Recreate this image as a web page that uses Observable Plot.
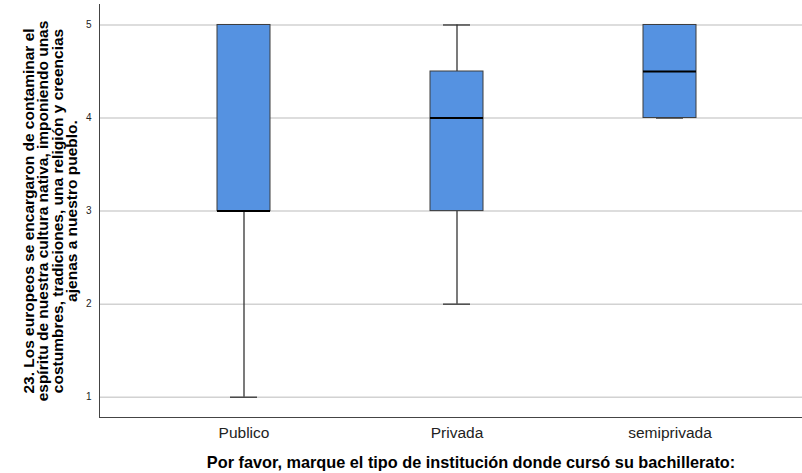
<!DOCTYPE html>
<html>
<head>
<meta charset="utf-8">
<script src="https://cdn.jsdelivr.net/npm/d3@7"></script>
<script src="https://cdn.jsdelivr.net/npm/@observablehq/plot@0.6"></script>
<style>
  html, body { margin: 0; padding: 0; background: #fff; }
  #chart svg { display: block; }
</style>
</head>
<body>
<div id="chart"></div>
<script>
const categories = ["Publico", "Privada", "semiprivada"];
const mins    = [1, 2, 4];
const q1s     = [3, 3, 4];
const medians = [3, 4, 4.5];
const q3s     = [5, 4.5, 5];
const maxs    = [5, 5, 5];
const yTicks  = [1, 2, 3, 4, 5];
const yDomain = [0.782, 5.22];
const xTitle = "Por favor, marque el tipo de institución donde cursó su bachillerato:";
const yTitle = "23. Los europeos se encargaron de contaminar el\nespíritu de nuestra cultura nativa, imponiendo unas\ncostumbres, tradiciones, una religión y creencias\najenas a nuestro pueblo.";

const data = categories.map((c, i) => ({
  cat: c, min: mins[i], q1: q1s[i], median: medians[i], q3: q3s[i], max: maxs[i]
}));

const font = "'Liberation Sans', Arial, sans-serif";

const chart = Plot.plot({
  width: 802,
  height: 473,
  marginLeft: 99,
  marginRight: 0,
  marginTop: 4,
  marginBottom: 56,
  style: { fontFamily: font, background: "#fff" },
  x: { type: "band", domain: categories, paddingInner: 0.752, paddingOuter: 0, insetLeft: 116.5, insetRight: 105.5, label: null },
  y: { domain: yDomain, label: null },
  marks: [
    Plot.gridY(yTicks, { stroke: "#d2d2d2", strokeOpacity: 1, strokeWidth: 1.5 }),
    Plot.frame({ anchor: "left", stroke: "#444" }),
    Plot.frame({ anchor: "bottom", stroke: "#444" }),
    Plot.axisY(yTicks, { tickSize: 0, tickPadding: 8, fontSize: 10, fill: "#222", label: null, tickFormat: d => String(d) }),
    Plot.axisX({ tickSize: 0, tickPadding: 9, fontSize: 15.5, fill: "#222", label: null }),
    Plot.ruleX(data, { x: "cat", y1: "q3", y2: "max", stroke: "#333", strokeWidth: 1.3 }),
    Plot.ruleX(data, { x: "cat", y1: "min", y2: "q1", stroke: "#333", strokeWidth: 1.3 }),
    Plot.tickY(data, { x: "cat", y: "max", stroke: "#333", strokeWidth: 1.3, insetLeft: 13, insetRight: 13 }),
    Plot.tickY(data, { x: "cat", y: "min", stroke: "#333", strokeWidth: 1.3, insetLeft: 13, insetRight: 13 }),
    Plot.barY(data, { x: "cat", y1: "q1", y2: "q3", fill: "#5592e1", stroke: "#3c3c3c", strokeWidth: 1 }),
    Plot.tickY(data, { x: "cat", y: "median", stroke: "#000", strokeWidth: 2 }),
    Plot.text([xTitle], { frameAnchor: "bottom", dy: 50, dx: 20, fontSize: 16.3, fontWeight: "bold", fill: "#000" }),
    Plot.text([yTitle], { frameAnchor: "left", dx: -48.5, rotate: -90, textAnchor: "middle", lineAnchor: "middle", lineHeight: 0.935, fontSize: 15.5, fontWeight: "bold", fill: "#000" })
  ]
});

document.getElementById("chart").appendChild(chart);
</script>
</body>
</html>
